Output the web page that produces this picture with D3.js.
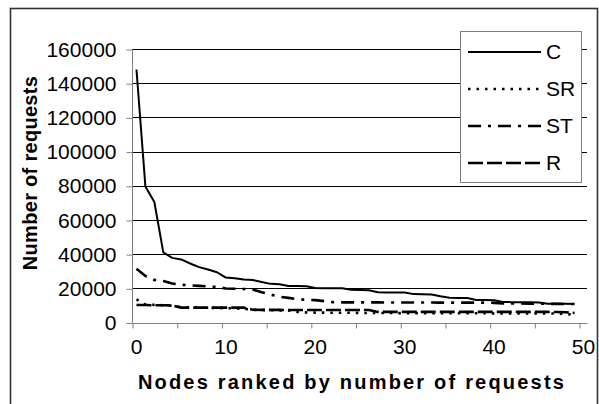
<!DOCTYPE html>
<html>
<head>
<meta charset="utf-8">
<script src="https://cdn.jsdelivr.net/npm/d3@7"></script>
<style>
  body { margin: 0; background: #fff; }
  svg { display: block; font-family: "Liberation Sans", Arial, sans-serif; }
</style>
</head>
<body>
<div id="chart"></div>
<script>
// ranks of the nodes (x categories)
const ranks = d3.range(50);
const xLabels = [0, 10, 20, 30, 40, 50];
const yTicks = [0, 20000, 40000, 60000, 80000, 100000, 120000, 140000, 160000];

const seriesC = [148000, 79500, 70500, 41000, 37800, 36900, 34500, 32400, 31000, 29400,
  26300, 25900, 25100, 24900, 23700, 22600, 22400, 21400, 21300, 21200,
  20200, 20100, 20100, 20000, 19100, 19000, 18900, 17700, 17600, 17600,
  17500, 16600, 16500, 16400, 15300, 14500, 14400, 14300, 13200, 13100,
  13000, 12000, 11900, 11900, 11800, 11700, 11000, 10900, 10900, 10800];
const seriesSR = [13500, 10600, 10300, 10100, 9800, 9000, 8800, 8700, 8600, 8500,
  8400, 8300, 8000, 7400, 7300, 7200, 7100, 7000, 6200, 5900,
  5800, 5800, 5700, 5700, 5700, 5600, 5600, 5600, 5600, 5500,
  5500, 5500, 5500, 5500, 5400, 5400, 5400, 5400, 5400, 5400,
  5300, 5300, 5300, 5300, 5300, 5300, 5300, 5200, 5200, 4200];
const seriesST = [31400, 27200, 24900, 24300, 22800, 22100, 21700, 21400, 21100, 20800,
  19900, 19700, 19600, 19300, 17700, 16300, 15100, 14400, 13600, 13300,
  13100, 12500, 11900, 11800, 11800, 11800, 11800, 11800, 11700, 11700,
  11700, 11700, 11700, 11700, 11600, 11600, 11600, 11600, 11600, 11600,
  11500, 11200, 11100, 11100, 11000, 11000, 10900, 10900, 10800, 10800];
const seriesR = [10200, 10200, 10100, 10100, 10000, 8700, 8700, 8700, 8700, 8700,
  8700, 8700, 8700, 7500, 7400, 7400, 7400, 7300, 7300, 7300,
  7300, 7300, 7300, 7300, 7300, 7300, 7300, 6200, 6200, 6200,
  6200, 6200, 6200, 6200, 6200, 6200, 6200, 6200, 6200, 6200,
  6200, 6200, 6200, 6200, 6200, 6200, 6200, 6100, 6000, 5600];

const seriesNames = ["C", "SR", "ST", "R"];
const seriesValues = [seriesC, seriesSR, seriesST, seriesR];
const seriesDash = [null, "2.5,6", "13,7,3,7", "15,4"];
const seriesWidth = [2, 2.6, 2.6, 2.6];

const W = 599, H = 404;
const plot = {left: 132, right: 588, top: 49, bottom: 322.5};
const fontSize = 21;

const svg = d3.select("#chart").append("svg")
    .attr("width", W)
    .attr("height", H);

// outer frame
svg.append("rect")
    .attr("x", 10.5).attr("y", 8.5)
    .attr("width", 587).attr("height", 420)
    .attr("fill", "none")
    .attr("stroke", "#333")
    .attr("stroke-width", 1.6);

// scales
const xEdge = d3.scaleLinear().domain([0, 51]).range([plot.left, plot.right]);
const xBand = d3.scaleBand().domain(d3.range(51)).range([plot.left, plot.right]);
const y = d3.scaleLinear().domain([0, 160000]).range([plot.bottom, plot.top]);
const xPos = i => xBand(i) + xBand.bandwidth() / 2;

// gridlines
svg.append("g")
    .selectAll("line")
    .data(yTicks.filter(d => d > 0))
    .join("line")
    .attr("x1", plot.left).attr("x2", plot.right - 1)
    .attr("y1", d => Math.round(y(d)) + 0.5)
    .attr("y2", d => Math.round(y(d)) + 0.5)
    .attr("stroke", "#000")
    .attr("stroke-width", 1);

// y axis
const yAxisG = svg.append("g")
    .attr("transform", `translate(${plot.left + 0.5},0.5)`)
    .call(d3.axisLeft(y).tickValues(yTicks).tickSize(6).tickPadding(10).tickFormat(d3.format("d")));
yAxisG.select(".domain").attr("stroke", "#808080").attr("d", `M0,${plot.top}V${plot.bottom}`);
yAxisG.selectAll(".tick line").attr("stroke", "#808080");
yAxisG.selectAll(".tick text").attr("font-size", fontSize).attr("fill", "#000")
    .attr("font-family", "Liberation Sans, Arial, sans-serif");

// x axis tick marks (every 5 ranks, on category boundaries)
const xTickG = svg.append("g")
    .attr("transform", `translate(0.5,${Math.round(plot.bottom) + 0.5})`)
    .call(d3.axisBottom(xEdge).tickValues(d3.range(0, 51, 5)).tickSize(5).tickFormat(""));
xTickG.select(".domain").attr("stroke", "#808080").attr("d", `M${plot.left},0H${plot.right - 1}`);
xTickG.selectAll(".tick line").attr("stroke", "#808080");

// x axis labels (centred on categories)
const xLabG = svg.append("g")
    .attr("transform", `translate(0,${plot.bottom})`)
    .call(d3.axisBottom(xBand).tickValues(xLabels).tickSize(0).tickPadding(17));
xLabG.select(".domain").remove();
xLabG.selectAll(".tick text").attr("font-size", fontSize).attr("fill", "#000")
    .attr("font-family", "Liberation Sans, Arial, sans-serif");

// lines
const line = d3.line()
    .x((d, i) => xPos(ranks[i]))
    .y(d => y(d));

svg.append("g")
    .selectAll("path")
    .data(seriesValues)
    .join("path")
    .attr("d", d => line(d))
    .attr("fill", "none")
    .attr("stroke", "#000")
    .attr("stroke-width", (d, i) => seriesWidth[i])
    .attr("stroke-dasharray", (d, i) => seriesDash[i])
    .attr("stroke-linejoin", "round");

// axis titles
svg.append("text")
    .attr("x", 352).attr("y", 389)
    .attr("text-anchor", "middle")
    .attr("font-size", 20)
    .attr("font-weight", "bold")
    .attr("letter-spacing", 2.2)
    .text("Nodes ranked by number of requests");

svg.append("text")
    .attr("transform", "translate(37,173) rotate(-90)")
    .attr("text-anchor", "middle")
    .attr("font-size", 20)
    .attr("font-weight", "bold")
    .attr("letter-spacing", 0.3)
    .text("Number of requests");

// legend
const legend = svg.append("g");
legend.append("rect")
    .attr("x", 460.5).attr("y", 31.5)
    .attr("width", 121).attr("height", 151)
    .attr("fill", "#fff")
    .attr("stroke", "#808080");

const item = legend.selectAll(".item")
    .data(seriesNames)
    .join("g")
    .attr("class", "item")
    .attr("transform", (d, i) => `translate(0,${52 + i * 37})`);

item.append("line")
    .attr("x1", 468).attr("x2", 541)
    .attr("stroke", "#000")
    .attr("stroke-width", (d, i) => seriesWidth[i])
    .attr("stroke-dasharray", (d, i) => seriesDash[i]);

item.append("text")
    .attr("x", 546).attr("y", 7)
    .attr("font-size", fontSize)
    .text(d => d);
</script>
</body>
</html>
